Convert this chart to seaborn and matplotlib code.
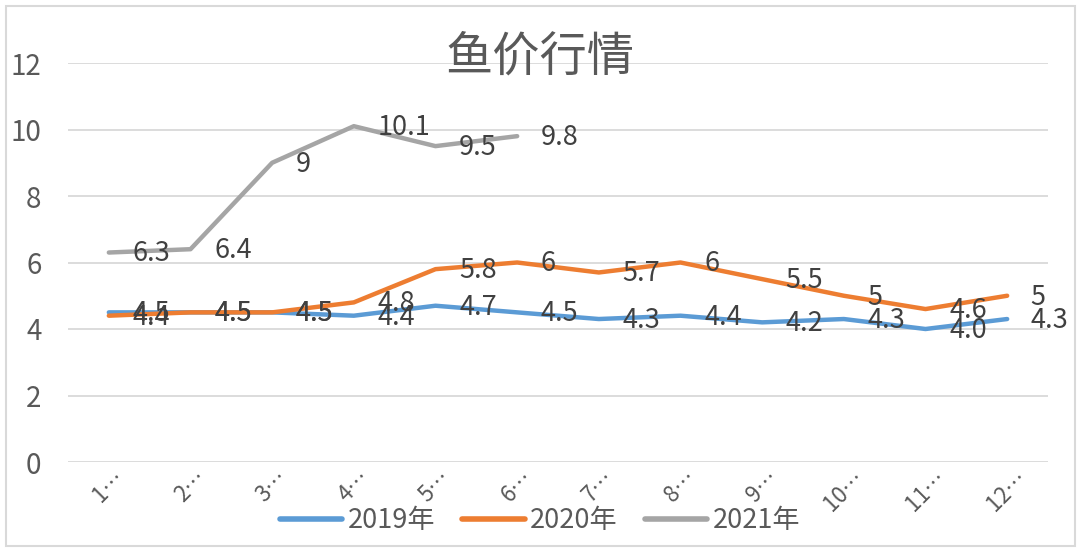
import matplotlib
matplotlib.use("Agg")
import matplotlib.pyplot as plt
import seaborn as sns
import pandas as pd
from matplotlib.patches import Rectangle

months = ["1月", "2月", "3月", "4月", "5月", "6月", "7月", "8月", "9月", "10月", "11月", "12月"]
tick_labels = ["1…", "2…", "3…", "4…", "5…", "6…", "7…", "8…", "9…", "10…", "11…", "12…"]
v2019 = [4.5, 4.5, 4.5, 4.4, 4.7, 4.5, 4.3, 4.4, 4.2, 4.3, 4.0, 4.3]
v2020 = [4.4, 4.5, 4.5, 4.8, 5.8, 6, 5.7, 6, 5.5, 5, 4.6, 5]
v2021 = [6.3, 6.4, 9, 10.1, 9.5, 9.8]
series_names = ["2019年", "2020年", "2021年"]
title = "鱼价行情"

colors = {"2019年": "#5B9BD5", "2020年": "#ED7D31", "2021年": "#A5A5A5"}

rows = []
for name, vals in zip(series_names, [v2019, v2020, v2021]):
    for i, v in enumerate(vals):
        rows.append({"month": i, "value": v, "series": name})
df = pd.DataFrame(rows)

sns.set_theme(style="white")
plt.rcParams["font.family"] = ["Noto Sans CJK SC", "DejaVu Sans"]

fig = plt.figure(figsize=(10.8, 5.53), dpi=100)
ax = fig.add_axes([68 / 1080, 1 - 462 / 553, 980 / 1080, 399 / 553])

sns.lineplot(data=df, x="month", y="value", hue="series", palette=colors,
             linewidth=3.2, ax=ax, legend=True, zorder=3)

def fmt(name, v):
    if name == "2019年":
        return f"{v:.1f}"
    return f"{v:g}"

for name, vals in zip(series_names, [v2019, v2020, v2021]):
    for i, v in enumerate(vals):
        ax.annotate(fmt(name, v), (i, v), xytext=(17, -1), textcoords="offset points",
                    ha="left", va="center", fontsize=19.5, color="#404040", zorder=5)

ax.set_xlim(-0.5, 11.5)
ax.set_ylim(0, 12)
ax.set_yticks([0, 2, 4, 6, 8, 10, 12])
ax.set_xticks(range(12))
ax.set_xticklabels(tick_labels, rotation=45, ha="center", fontsize=16, color="#595959")
ax.tick_params(axis="y", labelsize=20, labelcolor="#595959", length=0, pad=19)
ax.tick_params(axis="x", length=0, pad=3)
ax.grid(axis="y", color="#D9D9D9", linewidth=1.3, zorder=0)
ax.set_axisbelow(True)
for s in ax.spines.values():
    s.set_visible(False)
ax.set_xlabel("")
ax.set_ylabel("")

ax.legend(loc="center", bbox_to_anchor=(0.5, 0.058), bbox_transform=fig.transFigure,
          ncol=3, frameon=False, fontsize=19.5, handlelength=2.3, columnspacing=1.0,
          handletextpad=0.2, labelcolor="#595959")
for line in ax.get_legend().get_lines():
    line.set_linewidth(4)

fig.text(0.5, 1 - 57 / 553, title, ha="center", va="center", fontsize=34, color="#595959", zorder=10)

fig.patches.append(Rectangle((6 / 1080, 1 - 546 / 553), 1069 / 1080, 540 / 553,
                             transform=fig.transFigure, fill=False, edgecolor="#D9D9D9", linewidth=1.5))

fig.savefig("out.png", dpi=100)
